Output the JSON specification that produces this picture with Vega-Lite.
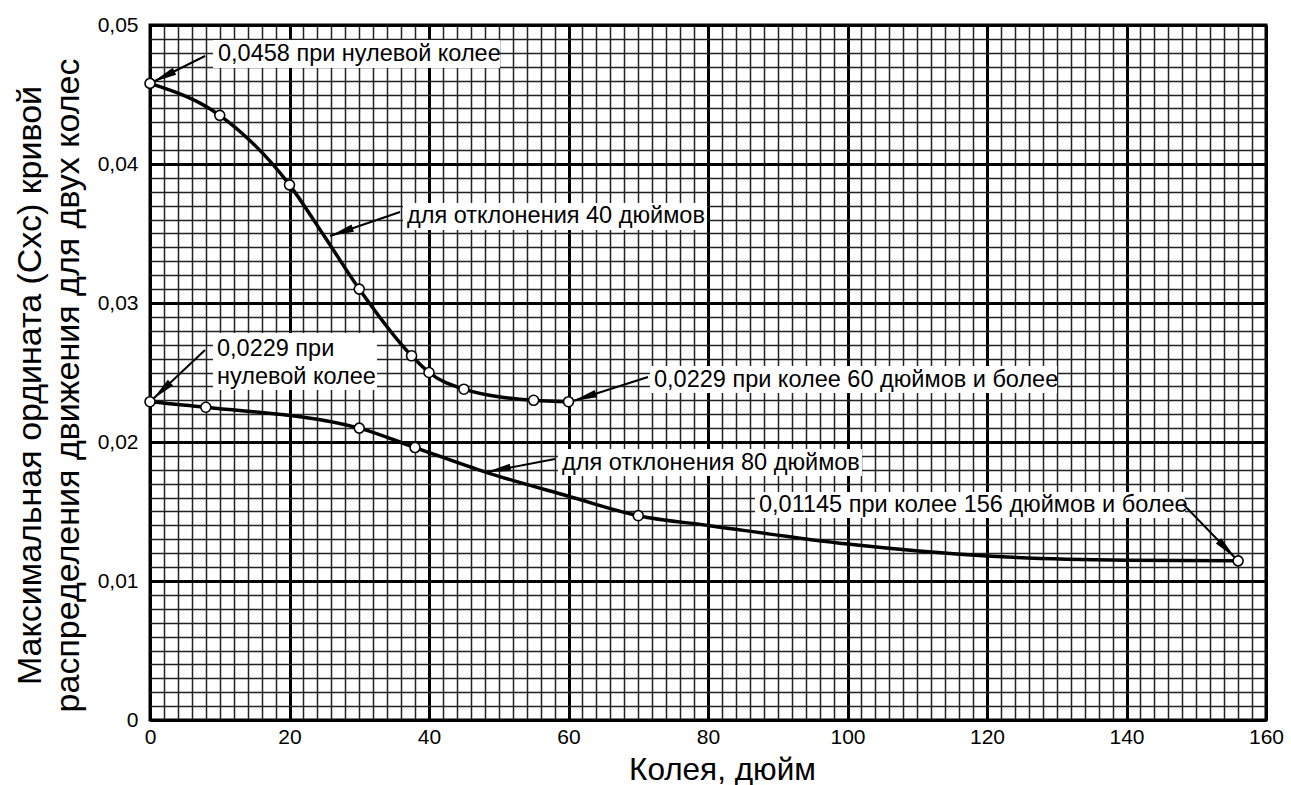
{
  "$schema": "https://vega.github.io/schema/vega-lite/v6.json",
  "width": 1116,
  "height": 695,
  "autosize": "none",
  "padding": {"left": 150, "top": 25, "right": 25, "bottom": 65},
  "background": "white",
  "config": {
    "view": {"stroke": "black", "strokeWidth": 3},
    "font": "Liberation Sans",
    "axis": {"labelFont": "Liberation Sans", "titleFont": "Liberation Sans", "labelColor": "black", "titleColor": "black", "titleFontWeight": "normal"}
  },
  "datasets": {
    "curves": [
      {"series": "40", "x": 0, "y": 0.0458},
      {"series": "40", "x": 10, "y": 0.0435},
      {"series": "40", "x": 20, "y": 0.0385},
      {"series": "40", "x": 25, "y": 0.0348},
      {"series": "40", "x": 30, "y": 0.031},
      {"series": "40", "x": 37.5, "y": 0.0262},
      {"series": "40", "x": 40, "y": 0.025},
      {"series": "40", "x": 45, "y": 0.0238},
      {"series": "40", "x": 55, "y": 0.023},
      {"series": "40", "x": 60, "y": 0.0229},
      {"series": "80", "x": 0, "y": 0.0229},
      {"series": "80", "x": 8, "y": 0.0225},
      {"series": "80", "x": 30, "y": 0.021},
      {"series": "80", "x": 38, "y": 0.0196},
      {"series": "80", "x": 48.3, "y": 0.0178},
      {"series": "80", "x": 60, "y": 0.0161},
      {"series": "80", "x": 70, "y": 0.0147},
      {"series": "80", "x": 80, "y": 0.014},
      {"series": "80", "x": 100, "y": 0.01266},
      {"series": "80", "x": 120, "y": 0.0118},
      {"series": "80", "x": 140, "y": 0.0115},
      {"series": "80", "x": 156, "y": 0.01145}
    ],
    "points": [
      {"series": "40", "x": 0, "y": 0.0458},
      {"series": "40", "x": 10, "y": 0.0435},
      {"series": "40", "x": 20, "y": 0.0385},
      {"series": "40", "x": 30, "y": 0.031},
      {"series": "40", "x": 37.5, "y": 0.0262},
      {"series": "40", "x": 40, "y": 0.025},
      {"series": "40", "x": 45, "y": 0.0238},
      {"series": "40", "x": 55, "y": 0.023},
      {"series": "40", "x": 60, "y": 0.0229},
      {"series": "80", "x": 0, "y": 0.0229},
      {"series": "80", "x": 8, "y": 0.0225},
      {"series": "80", "x": 30, "y": 0.021},
      {"series": "80", "x": 38, "y": 0.0196},
      {"series": "80", "x": 70, "y": 0.0147},
      {"series": "80", "x": 156, "y": 0.01145}
    ],
    "boxes": [
      {"x0": 9.03, "x1": 50.18, "y0": 0.04892, "y1": 0.04691},
      {"x0": 36.27, "x1": 79.86, "y0": 0.03719, "y1": 0.03525},
      {"x0": 9.03, "x1": 32.54, "y0": 0.02784, "y1": 0.02374},
      {"x0": 71.68, "x1": 130.04, "y0": 0.02547, "y1": 0.02353},
      {"x0": 58.49, "x1": 102.08, "y0": 0.0195, "y1": 0.01755},
      {"x0": 86.74, "x1": 148.39, "y0": 0.0164, "y1": 0.01453}
    ],
    "labels": [
      {"x": 9.75, "y": 0.04791, "text": "0,0458 при нулевой колее"},
      {"x": 36.85, "y": 0.03626, "text": "для отклонения 40 дюймов"},
      {"x": 9.6, "y": 0.02669, "text": "0,0229 при"},
      {"x": 9.6, "y": 0.02468, "text": "нулевой колее"},
      {"x": 72.26, "y": 0.02446, "text": "0,0229 при колее 60 дюймов и более"},
      {"x": 59.07, "y": 0.01849, "text": "для отклонения 80 дюймов"},
      {"x": 87.31, "y": 0.01547, "text": "0,01145 при колее 156 дюймов и более"}
    ],
    "arrows": [
      {"x": 7.89, "y": 0.04777, "x2": 0.43, "y2": 0.0459},
      {"x": 35.84, "y": 0.03655, "x2": 25.81, "y2": 0.03482},
      {"x": 7.89, "y": 0.02662, "x2": 0.43, "y2": 0.02309},
      {"x": 71.4, "y": 0.02468, "x2": 60.65, "y2": 0.02295},
      {"x": 58.06, "y": 0.01878, "x2": 48.3, "y2": 0.01784},
      {"x": 148.1, "y": 0.01554, "x2": 155.6, "y2": 0.01165}
    ]
  },
  "layer": [
    {
      "data": {"name": "curves"},
      "mark": {"type": "line", "color": "black", "strokeWidth": 3.5, "interpolate": "monotone"},
      "encoding": {
        "x": {"field": "x", "type": "quantitative", "scale": {"domain": [0, 160], "nice": false, "zero": false},
          "axis": {"orient": "top", "tickCount": 80, "grid": true, "gridColor": "#222", "gridWidth": 1.5, "gridOpacity": 1, "labels": false, "ticks": false, "domain": false, "title": null}},
        "y": {"field": "y", "type": "quantitative", "scale": {"domain": [0, 0.05], "nice": false, "zero": false},
          "axis": {"orient": "right", "tickCount": 50, "grid": true, "gridColor": "#222", "gridWidth": 1.5, "gridOpacity": 1, "labels": false, "ticks": false, "domain": false, "title": null}},
        "detail": {"field": "series", "type": "nominal"}
      }
    },
    {
      "data": {"name": "boxes"},
      "mark": {"type": "rect", "color": "white", "opacity": 1},
      "encoding": {
        "x": {"field": "x0", "type": "quantitative",
          "axis": {"orient": "bottom", "values": [0, 20, 40, 60, 80, 100, 120, 140, 160], "grid": true, "gridColor": "black", "gridWidth": 3, "gridOpacity": 1, "ticks": false, "domain": false, "labelFontSize": 21, "labelPadding": 6, "labelFlush": false,
            "title": "Колея, дюйм", "titleFontSize": 31.5, "titleX": 572, "titleY": 59, "titleBaseline": "alphabetic", "titleAlign": "center"}},
        "x2": {"field": "x1"},
        "y": {"field": "y0", "type": "quantitative",
          "axis": {"orient": "left", "values": [0, 0.01, 0.02, 0.03, 0.04, 0.05], "grid": true, "gridColor": "black", "gridWidth": 3, "gridOpacity": 1, "ticks": false, "domain": false, "labelFontSize": 21, "labelPadding": 12, "labelFlush": false,
            "labelExpr": "replace(format(datum.value, '.2~f'), '.', ',')",
            "title": ["Максимальная ордината (Схс) кривой", "распределения движения для двух колес"], "titleFontSize": 34, "titleLineHeight": 38, "titleAngle": -90, "titleX": -120, "titleY": 360, "titleBaseline": "middle", "titleAlign": "center"}},
        "y2": {"field": "y1"}
      }
    },
    {
      "data": {"name": "labels"},
      "mark": {"type": "text", "align": "left", "baseline": "middle", "fontSize": 23.5, "color": "black"},
      "encoding": {
        "x": {"field": "x", "type": "quantitative", "axis": null},
        "y": {"field": "y", "type": "quantitative", "axis": null},
        "text": {"field": "text", "type": "nominal"}
      }
    },
    {
      "data": {"name": "arrows"},
      "mark": {"type": "rule", "color": "black", "strokeWidth": 2},
      "encoding": {
        "x": {"field": "x", "type": "quantitative", "axis": null},
        "y": {"field": "y", "type": "quantitative", "axis": null},
        "x2": {"field": "x2"},
        "y2": {"field": "y2"}
      }
    },
    {
      "data": {"name": "arrows"},
      "transform": [
        {"calculate": "atan2((datum.x2 - datum.x) * 6.975, (datum.y2 - datum.y) * 13900) * 180 / PI", "as": "ang"}
      ],
      "mark": {"type": "point", "shape": "M0,0L-0.32,2L0.32,2Z", "filled": true, "color": "black", "opacity": 1, "size": 576},
      "encoding": {
        "x": {"field": "x2", "type": "quantitative", "axis": null},
        "y": {"field": "y2", "type": "quantitative", "axis": null},
        "angle": {"field": "ang", "type": "quantitative", "scale": null}
      }
    },
    {
      "data": {"name": "points"},
      "mark": {"type": "point", "shape": "circle", "filled": true, "fill": "white", "stroke": "black", "strokeWidth": 1.6, "opacity": 1, "size": 100},
      "encoding": {
        "x": {"field": "x", "type": "quantitative", "axis": null},
        "y": {"field": "y", "type": "quantitative", "axis": null}
      }
    }
  ],
  "resolve": {"axis": {"x": "independent", "y": "independent"}}
}
